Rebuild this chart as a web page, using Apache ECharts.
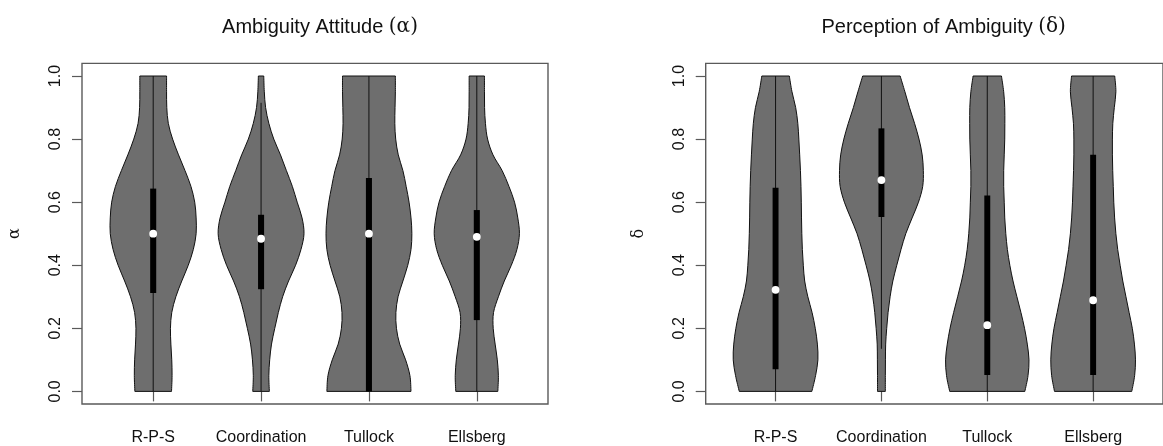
<!DOCTYPE html>
<html>
<head>
<meta charset="utf-8">
<script src="https://cdn.jsdelivr.net/npm/echarts@6/dist/echarts.min.js"></script>
<style>html,body{margin:0;padding:0;background:#fff;}#c{width:1163px;height:446px;}</style>
</head>
<body>
<div id="c"></div>
<script>
// ---- data ----
const categories = ['R-P-S', 'Coordination', 'Tullock', 'Ellsberg'];
const yTicks = [0, 0.2, 0.4, 0.6, 0.8, 1.0];
// density profile levels (y) and half-widths (in category units) at each level
const densityLevels = [0, 0.05, 0.10, 0.15, 0.20, 0.25, 0.30, 0.35, 0.40, 0.45, 0.50, 0.55, 0.60, 0.65, 0.70, 0.75, 0.80, 0.85, 0.90, 0.95, 1.00];

// Ambiguity Attitude (alpha)
const alphaRPS      = [0.170,0.175,0.172,0.164,0.160,0.172,0.210,0.265,0.325,0.372,0.398,0.398,0.385,0.350,0.295,0.235,0.180,0.140,0.126,0.124,0.124];
const alphaCoord    = [0.077,0.072,0.080,0.097,0.127,0.160,0.200,0.255,0.320,0.370,0.398,0.380,0.335,0.290,0.235,0.180,0.118,0.072,0.042,0.030,0.025];
const alphaTullock  = [0.390,0.380,0.340,0.285,0.255,0.250,0.270,0.315,0.360,0.390,0.398,0.390,0.372,0.345,0.315,0.272,0.248,0.240,0.242,0.245,0.245];
const alphaEllsberg = [0.195,0.200,0.190,0.170,0.152,0.155,0.200,0.255,0.320,0.372,0.395,0.380,0.350,0.298,0.235,0.150,0.100,0.080,0.072,0.071,0.071];
const alphaQ1     = [0.312, 0.324, 0.000, 0.226];
const alphaMedian = [0.500, 0.484, 0.500, 0.490];
const alphaQ3     = [0.643, 0.560, 0.677, 0.575];
const alphaLow    = [0.000, 0.000, 0.000, 0.000];
const alphaHigh   = [1.000, 0.915, 1.000, 1.000];

// Perception of Ambiguity (delta)
const deltaRPS      = [0.343,0.378,0.400,0.395,0.375,0.345,0.305,0.275,0.262,0.253,0.248,0.245,0.243,0.240,0.235,0.228,0.220,0.210,0.190,0.155,0.130];
const deltaCoord    = [0.037,0.037,0.038,0.040,0.050,0.063,0.082,0.108,0.145,0.185,0.230,0.290,0.350,0.390,0.396,0.385,0.355,0.313,0.265,0.222,0.177];
const deltaTullock  = [0.355,0.385,0.394,0.378,0.352,0.318,0.280,0.243,0.213,0.190,0.175,0.165,0.160,0.155,0.155,0.160,0.165,0.166,0.165,0.155,0.134];
const deltaEllsberg = [0.365,0.392,0.400,0.390,0.370,0.340,0.310,0.280,0.255,0.232,0.215,0.203,0.195,0.190,0.185,0.182,0.182,0.186,0.200,0.215,0.204];
const deltaQ1     = [0.070, 0.553, 0.052, 0.052];
const deltaMedian = [0.322, 0.670, 0.210, 0.289];
const deltaQ3     = [0.646, 0.834, 0.621, 0.750];
const deltaLow    = [0.000, 0.135, 0.000, 0.000];
const deltaHigh   = [1.000, 1.000, 1.000, 1.000];

const panels = [
  { title: 'Ambiguity Attitude ', sym: 'α', dens: [alphaRPS, alphaCoord, alphaTullock, alphaEllsberg],
    q1: alphaQ1, med: alphaMedian, q3: alphaQ3, lo: alphaLow, hi: alphaHigh },
  { title: 'Perception of Ambiguity ', sym: 'δ', dens: [deltaRPS, deltaCoord, deltaTullock, deltaEllsberg],
    q1: deltaQ1, med: deltaMedian, q3: deltaQ3, lo: deltaLow, hi: deltaHigh }
];

// ---- layout ----
const gridLeft = [82, 705.7];
const gridTop = 63.4, gridHeight = 341.6, gridWidth = 466;
const FONT = 'Liberation Sans, Arial, Helvetica, sans-serif';
const SERIF = 'DejaVu Serif, Liberation Serif, serif';
const AX = '#5a5a5a';

function catmull(pts) {
  let d = '';
  for (let i = 0; i < pts.length - 1; i++) {
    const p0 = pts[Math.max(i - 1, 0)], p1 = pts[i], p2 = pts[i + 1], p3 = pts[Math.min(i + 2, pts.length - 1)];
    const c1x = p1[0] + (p2[0] - p0[0]) / 6, c1y = p1[1] + (p2[1] - p0[1]) / 6;
    const c2x = p2[0] - (p3[0] - p1[0]) / 6, c2y = p2[1] - (p3[1] - p1[1]) / 6;
    d += ' C' + c1x.toFixed(2) + ' ' + c1y.toFixed(2) + ' ' + c2x.toFixed(2) + ' ' + c2y.toFixed(2) + ' ' + p2[0].toFixed(2) + ' ' + p2[1].toFixed(2);
  }
  return d;
}

function makeRender(panel) {
  return function (params, api) {
    const i = params.dataIndex;
    const cx = api.value(0);
    const dens = panel.dens[i];
    const left = densityLevels.map((y, k) => api.coord([cx - dens[k], y]));
    const right = densityLevels.map((y, k) => api.coord([cx + dens[k], y])).reverse();
    let d = 'M' + left[0][0].toFixed(2) + ' ' + left[0][1].toFixed(2) + catmull(left);
    d += ' L' + right[0][0].toFixed(2) + ' ' + right[0][1].toFixed(2) + catmull(right) + ' Z';
    const wLo = api.coord([cx, panel.lo[i]]);
    const wHi = api.coord([cx, panel.hi[i]]);
    const bTop = api.coord([cx - 0.028, panel.q3[i]]);
    const bBot = api.coord([cx + 0.028, panel.q1[i]]);
    const m = api.coord([cx, panel.med[i]]);
    return {
      type: 'group',
      children: [
        { type: 'path', shape: { pathData: d }, style: { fill: '#6e6e6e', stroke: '#111', lineWidth: 1 } },
        { type: 'line', shape: { x1: wLo[0], y1: wLo[1], x2: wHi[0], y2: wHi[1] }, style: { stroke: '#111', lineWidth: 1 } },
        { type: 'rect', shape: { x: bTop[0], y: bTop[1], width: bBot[0] - bTop[0], height: bBot[1] - bTop[1] }, style: { fill: '#000' } },
        { type: 'circle', shape: { cx: m[0], cy: m[1], r: 3.9 }, style: { fill: '#fff' } }
      ]
    };
  };
}

const option = {
  animation: false,
  backgroundColor: '#fff',
  title: panels.map((p, k) => ({
    text: '{a|' + p.title + '}{b|(' + p.sym + ')}',
    left: gridLeft[k] + gridWidth / 2,
    top: 12,
    textAlign: 'center',
    textStyle: {
      fontWeight: 'normal',
      rich: {
        a: { fontFamily: FONT, fontSize: 20, fontWeight: 'normal', color: '#111' },
        b: { fontFamily: SERIF, fontSize: 20, fontWeight: 'normal', color: '#111' }
      }
    }
  })),
  grid: panels.map((p, k) => ({
    left: gridLeft[k], top: gridTop, width: gridWidth, height: gridHeight,
    show: true, borderColor: AX, borderWidth: 1.4, backgroundColor: 'transparent', containLabel: false
  })),
  xAxis: panels.map((p, k) => ({
    type: 'value', gridIndex: k, min: 0.34, max: 4.66,
    splitLine: { show: false },
    axisLine: { show: false },
    axisTick: { show: true, length: 10, lineStyle: { color: AX, width: 1.2 }, customValues: [1, 2, 3, 4] },
    axisLabel: { show: true, customValues: [1, 2, 3, 4], formatter: v => categories[Math.round(v) - 1] || '',
      fontFamily: FONT, fontSize: 16, color: '#111', margin: 26 }
  })),
  yAxis: panels.map((p, k) => ({
    type: 'value', gridIndex: k, min: -0.04, max: 1.04,
    name: p.sym, nameLocation: 'middle', nameGap: 59, nameRotate: 90,
    nameTextStyle: { fontFamily: SERIF, fontSize: 16, color: '#111' },
    splitLine: { show: false },
    axisLine: { show: false },
    axisTick: { show: true, length: 10, lineStyle: { color: AX, width: 1.2 }, customValues: yTicks },
    axisLabel: { show: true, customValues: yTicks, rotate: 90, formatter: v => v.toFixed(1),
      fontFamily: FONT, fontSize: 16, color: '#111', margin: 18 }
  })),
  series: panels.map((p, k) => ({
    type: 'custom', xAxisIndex: k, yAxisIndex: k,
    renderItem: makeRender(p),
    encode: { x: 0, y: 1 },
    data: categories.map((c, i) => [i + 1, p.med[i]]),
    clip: false, silent: true
  }))
};

const chart = echarts.init(document.getElementById('c'), null, { renderer: 'canvas' });
chart.setOption(option);
</script>
</body>
</html>
